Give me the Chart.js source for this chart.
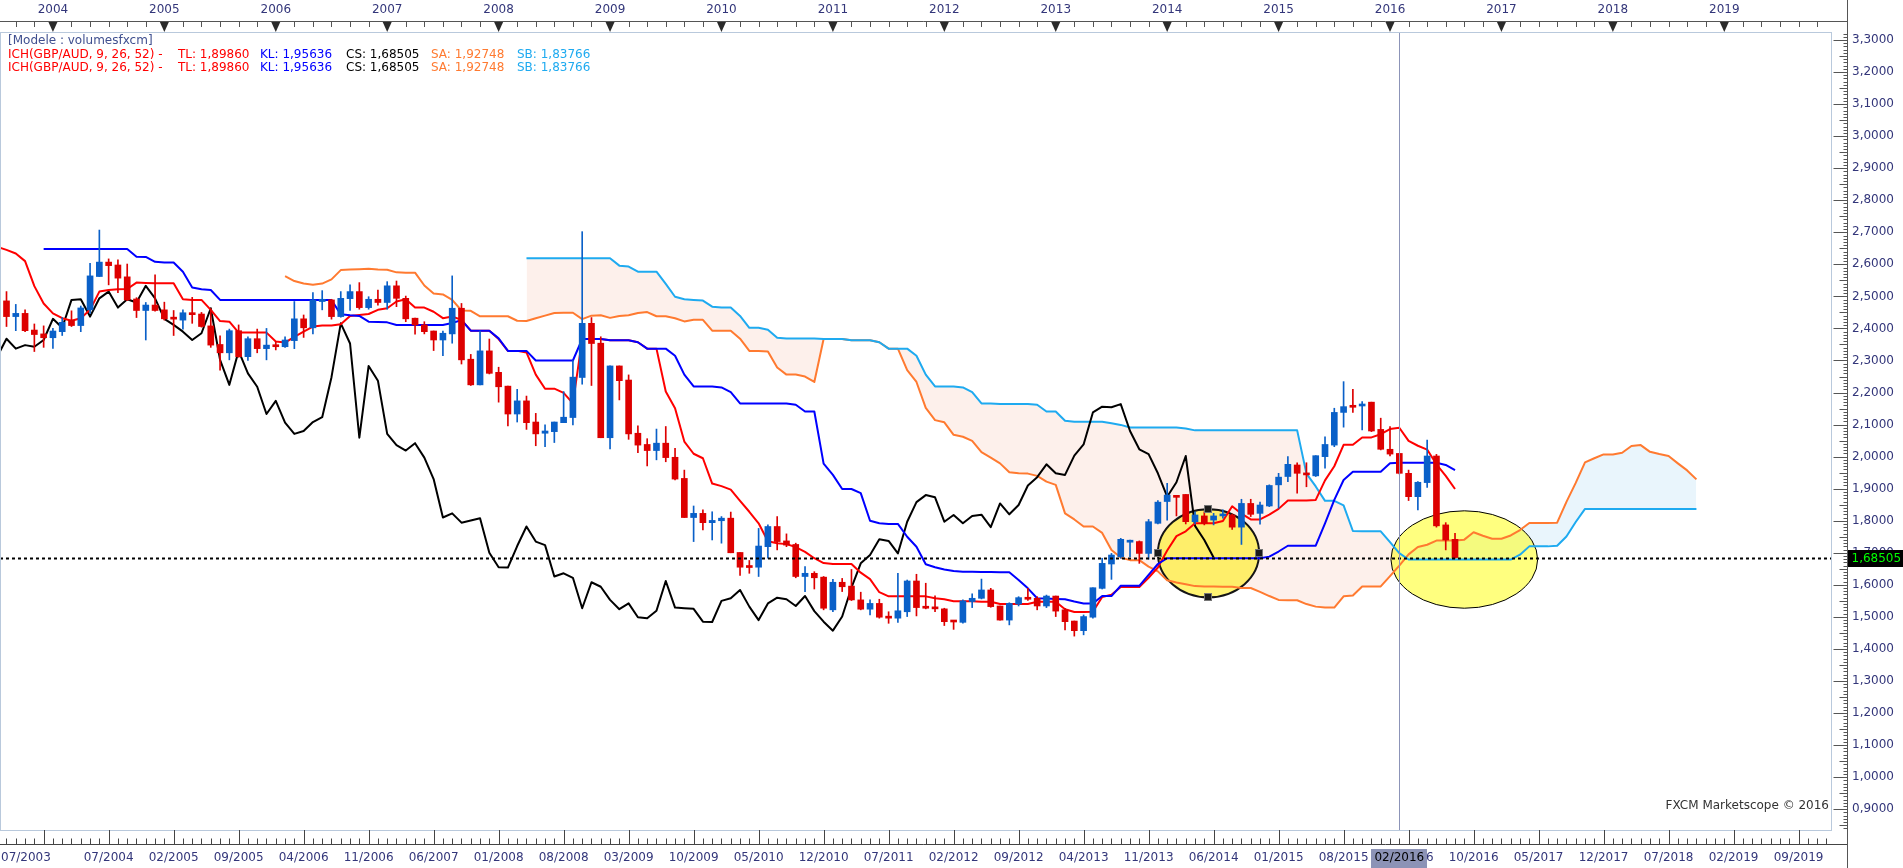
<!DOCTYPE html>
<html>
<head>
<meta charset="utf-8">
<title>GBP/AUD Ichimoku - monthly</title>
<script src="https://cdn.jsdelivr.net/npm/chart.js@4.4.1/dist/chart.umd.min.js"></script>
<style>
  html, body { margin: 0; padding: 0; background: #ffffff; overflow: hidden; }
  #chart { display: block; }
</style>
</head>
<body>
<canvas id="chart" width="1903" height="868"></canvas>
<script>
// month index: 0 = Jan 2003, 12 = Jan 2004 ...
const firstCandleMonth = 7; // Aug 2003

const opens = [
  2.486, 2.437, 2.447, 2.395, 2.383, 2.371, 2.390, 2.426, 2.409, 2.458,
  2.562, 2.607, 2.598, 2.561, 2.492, 2.456, 2.473, 2.458, 2.433, 2.426,
  2.447, 2.445, 2.408, 2.350, 2.324, 2.393, 2.312, 2.368, 2.337, 2.348,
  2.343, 2.362, 2.430, 2.402, 2.484, 2.489, 2.437, 2.493, 2.515, 2.465,
  2.491, 2.481, 2.533, 2.494, 2.432, 2.411, 2.392, 2.364, 2.383, 2.463,
  2.304, 2.224, 2.330, 2.263, 2.220, 2.133, 2.174, 2.108, 2.073, 2.078,
  2.106, 2.122, 2.247, 2.416, 2.354, 2.059, 2.283, 2.239, 2.073, 2.038,
  2.019, 2.042, 1.998, 1.932, 1.810, 1.823, 1.794, 1.800, 1.808, 1.701,
  1.657, 1.655, 1.719, 1.782, 1.737, 1.726, 1.626, 1.636, 1.624, 1.522,
  1.608, 1.596, 1.553, 1.524, 1.542, 1.501, 1.496, 1.516, 1.612, 1.532,
  1.529, 1.525, 1.487, 1.483, 1.548, 1.558, 1.584, 1.534, 1.490, 1.540,
  1.560, 1.558, 1.534, 1.565, 1.522, 1.487, 1.457, 1.499, 1.589, 1.665,
  1.688, 1.733, 1.735, 1.698, 1.792, 1.860, 1.878, 1.882, 1.797, 1.815,
  1.802, 1.815, 1.818, 1.780, 1.854, 1.823, 1.846, 1.912, 1.938, 1.974,
  1.948, 1.940, 2.000, 2.036, 2.138, 2.158, 2.158, 2.170, 2.085, 2.023,
  2.010, 1.948, 1.875, 1.919, 2.002, 1.787, 1.742
];
const highs = [
  2.515, 2.475, 2.458, 2.414, 2.408, 2.400, 2.434, 2.455, 2.470, 2.603,
  2.707, 2.617, 2.614, 2.601, 2.496, 2.481, 2.567, 2.482, 2.456, 2.458,
  2.497, 2.450, 2.461, 2.377, 2.398, 2.411, 2.374, 2.398, 2.400, 2.359,
  2.374, 2.484, 2.442, 2.512, 2.518, 2.491, 2.515, 2.536, 2.543, 2.499,
  2.520, 2.546, 2.548, 2.501, 2.432, 2.421, 2.392, 2.392, 2.564, 2.478,
  2.319, 2.392, 2.367, 2.279, 2.220, 2.210, 2.189, 2.135, 2.099, 2.108,
  2.203, 2.300, 2.702, 2.434, 2.374, 2.283, 2.283, 2.255, 2.096, 2.056,
  2.086, 2.094, 2.026, 1.958, 1.846, 1.834, 1.828, 1.813, 1.827, 1.701,
  1.676, 1.776, 1.787, 1.813, 1.759, 1.730, 1.657, 1.641, 1.626, 1.617,
  1.620, 1.648, 1.577, 1.553, 1.555, 1.516, 1.636, 1.615, 1.633, 1.605,
  1.566, 1.527, 1.487, 1.553, 1.572, 1.618, 1.589, 1.534, 1.544, 1.563,
  1.589, 1.563, 1.568, 1.565, 1.527, 1.487, 1.506, 1.591, 1.683, 1.698,
  1.745, 1.740, 1.737, 1.804, 1.863, 1.917, 1.878, 1.882, 1.828, 1.828,
  1.823, 1.834, 1.821, 1.867, 1.867, 1.858, 1.912, 1.948, 2.000, 1.981,
  1.981, 2.003, 2.062, 2.151, 2.234, 2.210, 2.172, 2.170, 2.120, 2.094,
  2.010, 1.958, 1.922, 2.052, 2.007, 1.794, 1.761
];
const lows = [
  2.406, 2.393, 2.390, 2.328, 2.341, 2.338, 2.378, 2.406, 2.390, 2.447,
  2.562, 2.536, 2.512, 2.487, 2.434, 2.364, 2.454, 2.426, 2.378, 2.398,
  2.416, 2.404, 2.341, 2.270, 2.302, 2.310, 2.300, 2.324, 2.302, 2.333,
  2.341, 2.337, 2.372, 2.383, 2.458, 2.429, 2.435, 2.456, 2.460, 2.460,
  2.473, 2.460, 2.468, 2.421, 2.382, 2.383, 2.331, 2.315, 2.354, 2.289,
  2.222, 2.224, 2.258, 2.170, 2.096, 2.108, 2.085, 2.034, 2.031, 2.044,
  2.106, 2.099, 2.226, 2.222, 2.059, 2.024, 2.177, 2.054, 2.012, 1.971,
  1.990, 1.984, 1.927, 1.810, 1.735, 1.771, 1.740, 1.730, 1.700, 1.629,
  1.636, 1.626, 1.683, 1.709, 1.719, 1.622, 1.579, 1.587, 1.522, 1.516,
  1.579, 1.551, 1.522, 1.506, 1.496, 1.480, 1.483, 1.501, 1.503, 1.525,
  1.516, 1.473, 1.461, 1.480, 1.529, 1.556, 1.530, 1.490, 1.475, 1.534,
  1.551, 1.522, 1.529, 1.501, 1.459, 1.440, 1.444, 1.496, 1.587, 1.617,
  1.683, 1.688, 1.667, 1.680, 1.790, 1.802, 1.815, 1.790, 1.790, 1.787,
  1.787, 1.808, 1.773, 1.726, 1.813, 1.789, 1.844, 1.839, 1.922, 1.886,
  1.906, 1.938, 1.964, 2.031, 2.092, 2.138, 2.083, 2.078, 2.021, 2.002,
  1.946, 1.863, 1.834, 1.904, 1.780, 1.709, 1.683
];
const closes = [
  2.437, 2.447, 2.393, 2.381, 2.371, 2.392, 2.419, 2.409, 2.464, 2.564,
  2.607, 2.596, 2.557, 2.489, 2.456, 2.473, 2.456, 2.430, 2.429, 2.449,
  2.443, 2.406, 2.348, 2.324, 2.393, 2.312, 2.368, 2.337, 2.348, 2.343,
  2.364, 2.430, 2.402, 2.489, 2.491, 2.437, 2.494, 2.515, 2.465, 2.491,
  2.481, 2.533, 2.494, 2.430, 2.411, 2.390, 2.364, 2.385, 2.463, 2.302,
  2.224, 2.330, 2.260, 2.218, 2.133, 2.174, 2.106, 2.071, 2.080, 2.108,
  2.123, 2.248, 2.416, 2.353, 2.059, 2.283, 2.237, 2.071, 2.036, 2.019,
  2.042, 1.997, 1.930, 1.810, 1.823, 1.794, 1.801, 1.808, 1.700, 1.655,
  1.654, 1.721, 1.782, 1.735, 1.724, 1.626, 1.636, 1.622, 1.527, 1.608,
  1.594, 1.553, 1.524, 1.542, 1.499, 1.496, 1.519, 1.612, 1.529, 1.527,
  1.525, 1.485, 1.484, 1.550, 1.558, 1.584, 1.532, 1.490, 1.542, 1.560,
  1.555, 1.534, 1.565, 1.518, 1.485, 1.457, 1.501, 1.591, 1.667, 1.693,
  1.742, 1.737, 1.698, 1.797, 1.858, 1.880, 1.873, 1.797, 1.818, 1.792,
  1.815, 1.819, 1.780, 1.854, 1.820, 1.849, 1.910, 1.936, 1.976, 1.948,
  1.943, 2.003, 2.038, 2.138, 2.156, 2.154, 2.164, 2.080, 2.023, 2.008,
  1.948, 1.875, 1.920, 2.002, 1.784, 1.740, 1.68505
];

// Tenkan-sen (TL), from month 6
const tenkanStart = 6;
const tenkan = [
  2.655, 2.645, 2.634, 2.610, 2.532, 2.478, 2.447, 2.432, 2.424, 2.432,
  2.458, 2.515, 2.520, 2.522, 2.523, 2.543, 2.542, 2.541, 2.541, 2.541,
  2.491, 2.489, 2.489, 2.458, 2.423, 2.421, 2.387, 2.387, 2.387, 2.387,
  2.359, 2.356, 2.374, 2.390, 2.406, 2.409, 2.409, 2.413, 2.439, 2.442,
  2.445, 2.458, 2.463, 2.484, 2.491, 2.465, 2.465, 2.452, 2.432, 2.437,
  2.427, 2.393, 2.393, 2.393, 2.367, 2.330, 2.330, 2.325, 2.256, 2.212,
  2.212, 2.199, 2.166, 2.367, 2.367, 2.367, 2.363, 2.363, 2.363, 2.357,
  2.337, 2.337, 2.203, 2.151, 2.047, 2.009, 1.995, 1.916, 1.908, 1.897,
  1.862, 1.828, 1.792, 1.736, 1.730, 1.727, 1.718, 1.703, 1.683, 1.668,
  1.665, 1.665, 1.665, 1.638, 1.618, 1.577, 1.564, 1.564, 1.564, 1.564,
  1.564, 1.558, 1.555, 1.549, 1.549, 1.549, 1.547, 1.547, 1.540, 1.540,
  1.540, 1.540, 1.547, 1.547, 1.547, 1.524, 1.515, 1.515, 1.516, 1.562,
  1.569, 1.593, 1.593, 1.593, 1.622, 1.654, 1.707, 1.752, 1.767, 1.792,
  1.792, 1.792, 1.799, 1.845, 1.822, 1.804, 1.804, 1.819, 1.837, 1.863,
  1.863, 1.863, 1.865, 1.926, 1.970, 2.037, 2.037, 2.060, 2.060, 2.070,
  2.086, 2.090, 2.049, 2.034, 2.022, 1.976, 1.940, 1.899
];

// Kijun-sen (KL), from month 11
const kijunStart = 11;
const kijun = [
  2.648, 2.648, 2.648, 2.648, 2.648, 2.648, 2.648, 2.648, 2.648, 2.648,
  2.624, 2.623, 2.608, 2.606, 2.606, 2.577, 2.528, 2.522, 2.520, 2.489,
  2.489, 2.489, 2.489, 2.489, 2.489, 2.489, 2.489, 2.489, 2.489, 2.489,
  2.489, 2.489, 2.444, 2.441, 2.439, 2.421, 2.420, 2.419, 2.411, 2.411,
  2.411, 2.411, 2.411, 2.411, 2.417, 2.426, 2.393, 2.393, 2.393, 2.369,
  2.330, 2.330, 2.330, 2.300, 2.300, 2.300, 2.300, 2.300, 2.367, 2.367,
  2.367, 2.363, 2.363, 2.363, 2.357, 2.337, 2.337, 2.337, 2.315, 2.256,
  2.219, 2.219, 2.219, 2.216, 2.201, 2.166, 2.166, 2.166, 2.166, 2.166,
  2.166, 2.162, 2.141, 2.141, 1.978, 1.943, 1.899, 1.899, 1.886, 1.800,
  1.792, 1.790, 1.790, 1.750, 1.719, 1.664, 1.655, 1.648, 1.643, 1.641,
  1.641, 1.640, 1.640, 1.639, 1.639, 1.615, 1.589, 1.558, 1.557, 1.556,
  1.555, 1.548, 1.542, 1.542, 1.565, 1.565, 1.597, 1.597, 1.597, 1.631,
  1.665, 1.683, 1.683, 1.683, 1.683, 1.683, 1.683, 1.683, 1.683, 1.683,
  1.683, 1.683, 1.688, 1.704, 1.722, 1.722, 1.722, 1.722, 1.792, 1.865,
  1.927, 1.953, 1.953, 1.953, 1.953, 1.979, 1.981, 1.981, 1.981, 1.981,
  1.981, 1.974, 1.958
];

// Senkou span A (SA), plotted from month 37 to 189
const spanAStart = 37;
const spanA = [
  2.563, 2.548, 2.540, 2.536, 2.540, 2.553, 2.582, 2.584, 2.585, 2.586,
  2.584, 2.583, 2.575, 2.574, 2.574, 2.534, 2.509, 2.506, 2.489, 2.456,
  2.455, 2.438, 2.438, 2.438, 2.438, 2.424, 2.423, 2.432, 2.440, 2.448,
  2.449, 2.449, 2.429, 2.440, 2.441, 2.433, 2.439, 2.441, 2.448, 2.451,
  2.438, 2.438, 2.432, 2.422, 2.427, 2.427, 2.393, 2.393, 2.393, 2.368,
  2.330, 2.330, 2.328, 2.278, 2.256, 2.256, 2.250, 2.233, 2.367, 2.367,
  2.367, 2.363, 2.363, 2.363, 2.357, 2.337, 2.337, 2.270, 2.233, 2.152,
  2.114, 2.107, 2.068, 2.062, 2.049, 2.014, 1.997, 1.979, 1.951, 1.948,
  1.947, 1.940, 1.922, 1.912, 1.823, 1.804, 1.782, 1.782, 1.762, 1.709,
  1.685, 1.677, 1.677, 1.657, 1.642, 1.614, 1.607, 1.602, 1.596, 1.595,
  1.595, 1.594, 1.594, 1.590, 1.590, 1.578, 1.565, 1.553, 1.552, 1.552,
  1.540, 1.532, 1.529, 1.529, 1.564, 1.567, 1.595, 1.595, 1.595, 1.627,
  1.660, 1.695, 1.718, 1.725, 1.738, 1.738, 1.738, 1.741, 1.764, 1.753,
  1.744, 1.744, 1.754, 1.771, 1.793, 1.793, 1.793, 1.794, 1.859, 1.918,
  1.982, 1.995, 2.007, 2.007, 2.012, 2.033, 2.036, 2.015, 2.008, 2.002,
  1.979, 1.957, 1.929
];

// Senkou span B (SB), plotted from month 63 to 189
const spanBStart = 63;
const spanB = [
  2.619, 2.619, 2.619, 2.619, 2.619, 2.619, 2.619, 2.619, 2.619, 2.619,
  2.596, 2.593, 2.577, 2.577, 2.577, 2.539, 2.499, 2.491, 2.489, 2.487,
  2.468, 2.465, 2.465, 2.439, 2.402, 2.402, 2.396, 2.371, 2.369, 2.369,
  2.369, 2.369, 2.367, 2.367, 2.367, 2.363, 2.363, 2.363, 2.357, 2.337,
  2.337, 2.337, 2.315, 2.256, 2.219, 2.219, 2.219, 2.216, 2.201, 2.166,
  2.166, 2.164, 2.164, 2.164, 2.164, 2.162, 2.141, 2.141, 2.112, 2.109,
  2.109, 2.109, 2.109, 2.104, 2.099, 2.091, 2.091, 2.091, 2.091, 2.091,
  2.091, 2.088, 2.082, 2.082, 2.082, 2.082, 2.082, 2.082, 2.082, 2.082,
  2.082, 2.082, 2.082, 2.082, 1.947, 1.907, 1.862, 1.862, 1.848, 1.768,
  1.767, 1.767, 1.767, 1.733, 1.699, 1.679, 1.679, 1.679, 1.679, 1.679,
  1.679, 1.679, 1.679, 1.679, 1.679, 1.679, 1.679, 1.694, 1.720, 1.720,
  1.720, 1.722, 1.751, 1.796, 1.837, 1.837, 1.837, 1.837, 1.837, 1.837,
  1.837, 1.837, 1.837, 1.837, 1.837, 1.837, 1.837
];

const chikouShift = 26;
const lastClose = 1.68505;
const cursorMonth = 157; // 02/2016

const priceTicks = [3.3, 3.2, 3.1, 3.0, 2.9, 2.8, 2.7, 2.6, 2.5, 2.4, 2.3, 2.2, 2.1, 2.0,
  1.9, 1.8, 1.7, 1.6, 1.5, 1.4, 1.3, 1.2, 1.1, 1.0, 0.9];
const yearTickMonths = [12, 24, 36, 48, 60, 72, 84, 96, 108, 120, 132, 144, 156, 168, 180, 192];
const dateTickMonths = [18, 25, 32, 39, 46, 53, 60, 67, 74, 81, 88, 95, 102, 109, 116, 123,
  130, 137, 144, 151, 158, 165, 172, 179, 186, 193, 200];
const firstDateLabel = '07/2003';

const legendHeader = '[Modele : volumesfxcm]';
const legendParts = [
  { text: 'ICH(GBP/AUD, 9, 26, 52) -', color: '#FF0000', x: 8 },
  { text: 'TL: 1,89860', color: '#FF0000', x: 178 },
  { text: 'KL: 1,95636', color: '#0000FF', x: 260 },
  { text: 'CS: 1,68505', color: '#000000', x: 346 },
  { text: 'SA: 1,92748', color: '#FF7A30', x: 431 },
  { text: 'SB: 1,83766', color: '#1EAAF0', x: 517 }
];

// drawn ellipses, in month / price units
const ellipseA = { m0: 131.0, m1: 141.9, p0: 1.561, p1: 1.836 };
const ellipseB = { m0: 156.1, m1: 171.9, p0: 1.527, p1: 1.831 };

const RED = '#DD0000', BLUE = '#0A60C8';
const AXIS_TEXT = '#33367A';
const FONT = '"DejaVu Sans", Verdana, sans-serif';

const monthLabel = m => String(m % 12 + 1).padStart(2, '0') + '/' + (2003 + Math.floor(m / 12));
const fmtPrice = (v, d = 4) => v.toFixed(d).replace('.', ',');

const candleMonths = opens.map((_, i) => firstCandleMonth + i);
const candleColors = opens.map((o, i) => closes[i] >= o ? BLUE : RED);
const series = (start, arr) => arr.map((v, i) => ({ x: start + i, y: v }));

const decor = {
  id: 'marketscopeDecor',
  beforeDatasetsDraw(chart) {
    const { ctx, chartArea: a, scales: { x, y } } = chart;
    ctx.save();
    ctx.beginPath();
    ctx.rect(a.left, a.top, a.right - a.left, a.bottom - a.top);
    ctx.clip();
    const shape = (e, fill, stroke, lw) => {
      const x0 = x.getPixelForValue(e.m0), x1 = x.getPixelForValue(e.m1);
      const y0 = y.getPixelForValue(e.p1), y1 = y.getPixelForValue(e.p0);
      ctx.beginPath();
      ctx.ellipse((x0 + x1) / 2, (y0 + y1) / 2, (x1 - x0) / 2, (y1 - y0) / 2, 0, 0, Math.PI * 2);
      ctx.fillStyle = fill;
      ctx.fill();
      ctx.lineWidth = lw;
      ctx.strokeStyle = stroke;
      ctx.stroke();
    };
    shape(ellipseA, 'rgba(255, 236, 20, 0.6)', '#151515', 2);
    shape(ellipseB, 'rgba(255, 255, 0, 0.5)', '#000000', 1);
    ctx.restore();
  },
  afterDatasetsDraw(chart) {
    const { ctx, chartArea: a, scales: { x, y } } = chart;
    ctx.save();
    // last price dotted line
    const yl = Math.round(y.getPixelForValue(lastClose)) + 0.5;
    ctx.setLineDash([3, 3]);
    ctx.lineWidth = 2;
    ctx.strokeStyle = '#000';
    ctx.beginPath();
    ctx.moveTo(a.left, yl);
    ctx.lineTo(a.right, yl);
    ctx.stroke();
    ctx.setLineDash([]);
    // cursor line
    const xc = Math.round(x.getPixelForValue(cursorMonth)) + 0.5;
    ctx.lineWidth = 1;
    ctx.strokeStyle = '#8C94B8';
    ctx.beginPath();
    ctx.moveTo(xc, a.top);
    ctx.lineTo(xc, a.bottom);
    ctx.stroke();
    // selection handles of the first ellipse
    const x0 = x.getPixelForValue(ellipseA.m0), x1 = x.getPixelForValue(ellipseA.m1);
    const y0 = y.getPixelForValue(ellipseA.p1), y1 = y.getPixelForValue(ellipseA.p0);
    const cx = (x0 + x1) / 2, cy = (y0 + y1) / 2;
    [[cx, y0], [cx, y1], [x0, cy], [x1, cy]].forEach(([hx, hy]) => {
      ctx.fillStyle = '#1C1C1C';
      ctx.fillRect(Math.round(hx) - 4, Math.round(hy) - 4, 8, 8);
      ctx.strokeStyle = '#777';
      ctx.strokeRect(Math.round(hx) - 3.5, Math.round(hy) - 3.5, 7, 7);
    });
    ctx.restore();
  },
  afterDraw(chart) {
    const { ctx, chartArea: a, scales: { x, y } } = chart;
    const W = chart.width, H = chart.height;
    const axisX = a.right + 15.5;
    ctx.save();
    // plot frame
    ctx.strokeStyle = '#B9C9DC';
    ctx.lineWidth = 1;
    ctx.strokeRect(a.left + 0.5, a.top + 0.5, a.right - a.left - 1, a.bottom - a.top);

    // top time axis
    ctx.strokeStyle = '#555';
    ctx.beginPath();
    ctx.moveTo(0, 21.5); ctx.lineTo(axisX, 21.5);
    ctx.stroke();
    for (let m = 8; m <= 204; m += 2) {
      const px = Math.round(x.getPixelForValue(m)) + 0.5;
      if (px > a.right) break;
      ctx.beginPath(); ctx.moveTo(px, 21.5); ctx.lineTo(px, 27); ctx.stroke();
    }
    ctx.fillStyle = '#2A2A2A';
    yearTickMonths.forEach(m => {
      const px = x.getPixelForValue(m);
      ctx.beginPath();
      ctx.moveTo(px - 4.5, 22); ctx.lineTo(px + 4.5, 22); ctx.lineTo(px, 32);
      ctx.closePath(); ctx.fill();
    });

    // bottom time axis
    const base = a.bottom + 14.5;
    ctx.strokeStyle = '#444';
    ctx.beginPath(); ctx.moveTo(0, base); ctx.lineTo(axisX, base); ctx.stroke();
    for (let m = 7; m <= 204; m++) {
      const px = Math.round(x.getPixelForValue(m)) + 0.5;
      if (px > a.right) break;
      const big = (m - 11) % 7 === 0;
      ctx.beginPath();
      ctx.moveTo(px, big ? a.bottom : base - 6);
      ctx.lineTo(px, base);
      ctx.stroke();
    }
    ctx.font = '12px ' + FONT;
    ctx.textBaseline = 'middle';
    ctx.fillStyle = AXIS_TEXT;
    ctx.textAlign = 'left';
    ctx.fillText(firstDateLabel, 1, a.bottom + 28);

    // cursor date box
    const xc = x.getPixelForValue(cursorMonth);
    ctx.fillStyle = '#8C93B6';
    ctx.fillRect(Math.round(xc) - 28, a.bottom + 19, 56, H - a.bottom - 19);
    ctx.fillStyle = '#000';
    ctx.textAlign = 'center';
    ctx.fillText(monthLabel(cursorMonth), xc, a.bottom + 28);

    // price axis line and ticks
    ctx.strokeStyle = '#555';
    ctx.beginPath(); ctx.moveTo(axisX, 0); ctx.lineTo(axisX, H); ctx.stroke();
    for (let k = 84; k <= 332; k++) {
      const p = k / 100;
      const py = Math.round(y.getPixelForValue(p)) + 0.5;
      if (py < a.top || py > a.bottom) continue;
      const len = k % 10 === 0 ? 14 : (k % 5 === 0 ? 8 : 4);
      ctx.beginPath(); ctx.moveTo(axisX - len, py); ctx.lineTo(axisX, py); ctx.stroke();
    }

    // last price box
    const yl = y.getPixelForValue(lastClose);
    ctx.fillStyle = '#000';
    ctx.fillRect(axisX + 0.5, Math.round(yl) - 8, W - axisX, 17);
    ctx.fillStyle = '#00FF00';
    ctx.textAlign = 'left';
    ctx.fillText(fmtPrice(lastClose, 5), axisX + 4, Math.round(yl) + 0.5);

    // legend
    ctx.fillStyle = '#3F4F8F';
    ctx.fillText(legendHeader, 8, 41);
    [55, 68].forEach(row => {
      legendParts.forEach(p => {
        ctx.fillStyle = p.color;
        ctx.fillText(p.text, p.x, row);
      });
    });

    // copyright
    ctx.fillStyle = '#333';
    ctx.textAlign = 'right';
    ctx.fillText('FXCM Marketscope \u00A9 2016', a.right - 3, a.bottom - 24);
    ctx.restore();
  }
};

new Chart(document.getElementById('chart'), {
  data: {
    datasets: [
      {
        type: 'bar', label: 'body', order: 0, grouped: false,
        data: candleMonths.map((m, i) => ({ x: m, y: [opens[i], closes[i]] })),
        backgroundColor: candleColors, barThickness: 6, minBarLength: 2,
        borderWidth: 0, borderSkipped: false
      },
      {
        type: 'bar', label: 'wick', order: 1, grouped: false,
        data: candleMonths.map((m, i) => ({ x: m, y: [lows[i], highs[i]] })),
        backgroundColor: candleColors, barThickness: 1,
        borderWidth: 0, borderSkipped: false
      },
      {
        type: 'line', label: 'KL', order: 2,
        data: series(kijunStart, kijun),
        borderColor: '#0000FF', borderWidth: 2, pointRadius: 0, fill: false
      },
      {
        type: 'line', label: 'TL', order: 3,
        data: series(tenkanStart, tenkan),
        borderColor: '#FF0000', borderWidth: 2, pointRadius: 0, fill: false
      },
      {
        type: 'line', label: 'CS', order: 4,
        data: closes.map((c, i) => ({ x: candleMonths[i] - chikouShift, y: c })),
        borderColor: '#000000', borderWidth: 2, pointRadius: 0, fill: false
      },
      {
        type: 'line', label: 'SB', order: 5,
        data: series(spanBStart, spanB),
        borderColor: '#1EAAF0', borderWidth: 2, pointRadius: 0, fill: false
      },
      {
        type: 'line', label: 'SA', order: 6,
        data: series(spanAStart, spanA),
        borderColor: '#FF7A30', borderWidth: 2, pointRadius: 0, fill: false
      },
      {
        type: 'line', label: 'cloud', order: 7,
        data: series(spanBStart, spanA.slice(spanBStart - spanAStart)),
        borderWidth: 0, borderColor: 'rgba(0,0,0,0)', pointRadius: 0,
        fill: { target: 5, above: '#E9F5FC', below: '#FDF0EB' }
      }
    ]
  },
  options: {
    responsive: false,
    animation: false,
    events: [],
    layout: { padding: 0 },
    plugins: {
      legend: { display: false },
      tooltip: { enabled: false },
      filler: { drawTime: 'beforeDatasetsDraw' }
    },
    elements: { line: { tension: 0, borderJoinStyle: 'round' } },
    scales: {
      x: {
        type: 'linear', position: 'bottom', min: 6.3, max: 203.6, offset: false,
        grid: { display: false, drawTicks: false }, border: { display: false },
        ticks: {
          autoSkip: false, maxRotation: 0, padding: 21, color: AXIS_TEXT,
          font: { family: FONT, size: 12 },
          callback: v => monthLabel(v)
        },
        afterBuildTicks: s => { s.ticks = dateTickMonths.map(v => ({ value: v })); },
        afterFit: s => { s.height = 38; }
      },
      x2: {
        type: 'linear', axis: 'x', position: 'top', min: 6.3, max: 203.6, offset: false,
        grid: { display: false, drawTicks: false }, border: { display: false },
        ticks: {
          autoSkip: false, maxRotation: 0, padding: 15, color: AXIS_TEXT,
          font: { family: FONT, size: 12 },
          callback: v => String(2003 + v / 12)
        },
        afterBuildTicks: s => { s.ticks = yearTickMonths.map(v => ({ value: v })); },
        afterFit: s => { s.height = 32; }
      },
      y: {
        type: 'linear', position: 'right', min: 0.835, max: 3.325,
        grid: { display: false, drawTicks: false }, border: { display: false },
        ticks: {
          padding: 20, color: AXIS_TEXT, font: { family: FONT, size: 12 },
          callback: v => fmtPrice(v)
        },
        afterBuildTicks: s => { s.ticks = priceTicks.map(v => ({ value: v })); },
        afterFit: s => { s.width = 71; }
      }
    }
  },
  plugins: [decor]
});
</script>
</body>
</html>
